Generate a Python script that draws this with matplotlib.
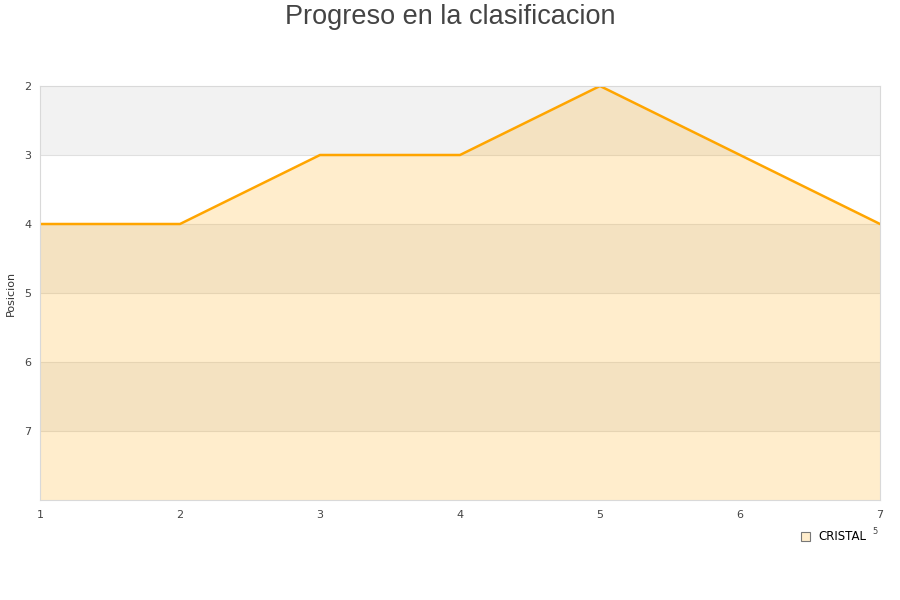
import matplotlib.pyplot as plt
from matplotlib.patches import Patch

# Datos
jornadas = [1, 2, 3, 4, 5, 6, 7]
posiciones = [4, 4, 3, 3, 2, 3, 4]
equipo = 'CRISTAL'
y_ticks = [2, 3, 4, 5, 6, 7]

fig = plt.figure(figsize=(9, 6), dpi=100)
ax = fig.add_axes([40 / 900, 1 - 500 / 600, 840 / 900, 414 / 600])

# Bandas alternas
for y in range(2, 8, 2):
    ax.axhspan(y, y + 1, color='#f2f2f2', lw=0, zorder=0)
for y in range(3, 8):
    ax.axhline(y, color='#e0e0e0', lw=0.8, zorder=0.5)

ax.fill_between(jornadas, posiciones, 8, color='#ffa500', alpha=0.2, lw=0, zorder=1)
ax.plot(jornadas, posiciones, color='#ffa500', lw=1.8, zorder=2)

ax.set_xlim(1, 7)
ax.set_ylim(8, 2)
ax.set_xticks(jornadas)
ax.set_yticks(y_ticks)
ax.tick_params(length=0, labelsize=8, colors='#444444')
ax.tick_params(axis='x', pad=7)
ax.tick_params(axis='y', pad=6)
for s in ax.spines.values():
    s.set_color('#d9d9d9')

fig.text(11 / 900, 1 - 293 / 600, 'Posicion', rotation=90, fontsize=8, color='#333333',
         ha='center', va='center')
fig.text(0.5, 1 - 17 / 600, 'Progreso en la clasificacion', ha='center', va='center',
         fontsize=19.5, color='#444444', family='Liberation Sans')

handle = Patch(facecolor='#ffedcc', edgecolor='#777777', lw=0.8)
fig.legend([handle], [equipo], loc='center left', bbox_to_anchor=(790 / 900, 1 - 537 / 600),
           frameon=False, fontsize=8.5, handlelength=0.8, handleheight=0.8, handletextpad=0.7)
fig.text(875 / 900, 1 - 532 / 600, '5', fontsize=6, color='#444444', ha='center', va='center')

fig.savefig('out.png', dpi=100)
